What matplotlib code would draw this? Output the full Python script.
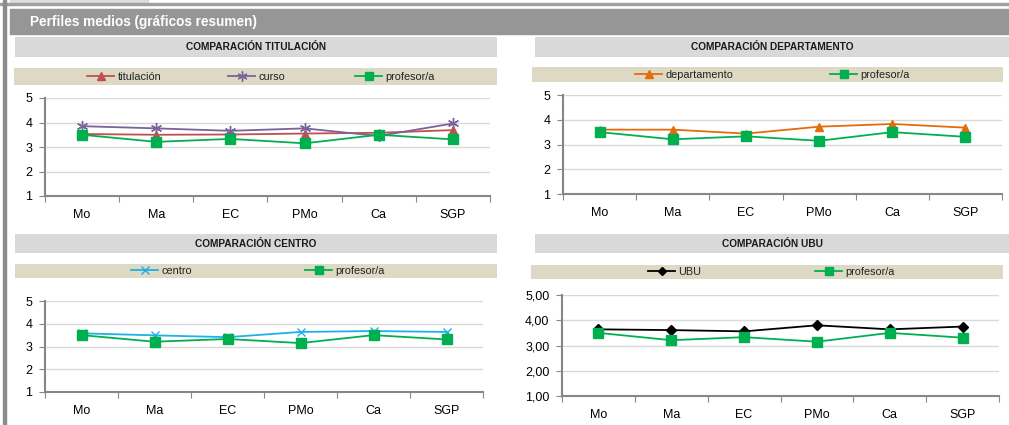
import matplotlib.pyplot as plt
from matplotlib.patches import Rectangle
from matplotlib.lines import Line2D
from matplotlib.legend import Legend

plt.rcParams['font.family'] = ['Liberation Sans', 'DejaVu Sans']

W, H = 1009, 425

# datos
categorias = ['Mo', 'Ma', 'EC', 'PMo', 'Ca', 'SGP']
profesor = [3.50, 3.21, 3.33, 3.15, 3.50, 3.31]
titulacion = [3.53, 3.50, 3.51, 3.55, 3.58, 3.69]
curso = [3.85, 3.76, 3.66, 3.76, 3.45, 3.96]
departamento = [3.60, 3.60, 3.44, 3.72, 3.83, 3.68]
centro = [3.58, 3.49, 3.41, 3.64, 3.68, 3.64]
ubu = [3.64, 3.61, 3.56, 3.80, 3.64, 3.75]

VERDE = '#00b050'
serie_prof = ('profesor/a', profesor, VERDE, 's', 7)

paneles = [
    # titulo, series, x de cada entrada de leyenda, caja titulo, caja leyenda, caja ejes, decimales
    ('COMPARACIÓN TITULACIÓN',
     [('titulación', titulacion, '#c0504d', '^', 6),
      ('curso', curso, '#7a629a', (6, 2, 0), 8),
      serie_prof],
     [87, 228, 355],
     (15, 37, 482, 20), (14, 68, 483, 17), (45, 98, 445, 98), 0),
    ('COMPARACIÓN DEPARTAMENTO',
     [('departamento', departamento, '#e46c0a', '^', 6), serie_prof],
     [635, 830],
     (535, 37, 474, 20), (532, 67, 471, 15), (563, 95, 439, 99), 0),
    ('COMPARACIÓN CENTRO',
     [('centro', centro, '#1fb0e8', 'x', 6), serie_prof],
     [131, 305],
     (15, 234, 482, 19), (15, 264, 482, 14), (45, 301, 438, 91), 0),
    ('COMPARACIÓN UBU',
     [('UBU', ubu, 'black', 'D', 5), serie_prof],
     [648, 815],
     (535, 234, 474, 19), (531, 265, 472, 14), (562, 295, 437, 101), 2),
]


def caja(fig, x, y, w, h):
    return fig.add_axes([x / W, 1 - (y + h) / H, w / W, h / H])


def sin_ejes(a):
    a.set_xticks([])
    a.set_yticks([])
    for s in a.spines.values():
        s.set_visible(False)


fig = plt.figure(figsize=(W / 100, H / 100), dpi=100)

# marco general
bg = fig.add_axes([0, 0, 1, 1])
bg.set_xlim(0, W)
bg.set_ylim(H, 0)
bg.axis('off')
bg.add_patch(Rectangle((10, 0), 138, 2.5, color='#dcdcdc'))
bg.add_patch(Rectangle((0, 2.5), W, 2, color='#a0a0a0'))
bg.add_patch(Rectangle((10, 9), W - 10, 25, color='#969696'))
bg.add_patch(Rectangle((3, 0), 3, H, color='#8c8c8c'))
bg.text(30, 21.5, 'Perfiles medios (gráficos resumen)', color='white',
        fontsize=9.8, fontweight='bold', va='center', ha='left')

for titulo, series, xs_ley, ct, cl, ce, dec in paneles:
    # barra de titulo
    at = caja(fig, *ct)
    at.set_facecolor('#d9d9d9')
    sin_ejes(at)
    at.text(0.5, 0.5, titulo, transform=at.transAxes, ha='center', va='center',
            fontsize=7.3, fontweight='bold', color='#1a1a1a')

    # barra de leyenda (una leyenda por serie)
    al = caja(fig, *cl)
    al.set_facecolor('#ddd9c4')
    sin_ejes(al)
    for (nombre, _, c, m, ms), xl in zip(series, xs_ley):
        h = Line2D([], [], color=c, marker=m, markersize=ms * 0.9, lw=1.3)
        leg = Legend(al, [h], [nombre], loc='center left',
                     bbox_to_anchor=((xl - cl[0]) / cl[2], 0.5), frameon=False,
                     fontsize=7.8, handlelength=2.5, handletextpad=0.3,
                     borderaxespad=0, borderpad=0, labelcolor='#222222')
        al.add_artist(leg)

    # grafico
    ax = caja(fig, *ce)
    for nombre, vals, c, m, ms in series:
        ax.plot(range(len(categorias)), vals, color=c, marker=m, markersize=ms,
                lw=1.3, zorder=3)
    ax.set_xlim(-0.5, len(categorias) - 0.5)
    ax.set_ylim(1, 5)
    ax.set_yticks([1, 2, 3, 4, 5])
    ax.yaxis.set_major_formatter(
        plt.FuncFormatter(lambda v, p, d=dec: f'{v:.{d}f}'.replace('.', ',')))
    ax.set_xticks([i - 0.5 for i in range(len(categorias) + 1)])
    ax.set_xticklabels([])
    ax.set_xticks(range(len(categorias)), minor=True)
    ax.set_xticklabels(categorias, minor=True)
    ax.tick_params(axis='x', which='minor', length=0, pad=9, labelsize=9)
    ax.tick_params(axis='x', which='major', length=4, color='#868686', direction='out')
    ax.tick_params(axis='y', length=4, color='#868686', labelsize=9, pad=5)
    ax.grid(axis='y', color='#d9d9d9', lw=1)
    ax.set_axisbelow(True)
    for s in ['top', 'right']:
        ax.spines[s].set_visible(False)
    for s in ['left', 'bottom']:
        ax.spines[s].set_color('#868686')
        ax.spines[s].set_linewidth(1.5)
    ax.set_facecolor('none')

fig.savefig('out.png', dpi=100)
